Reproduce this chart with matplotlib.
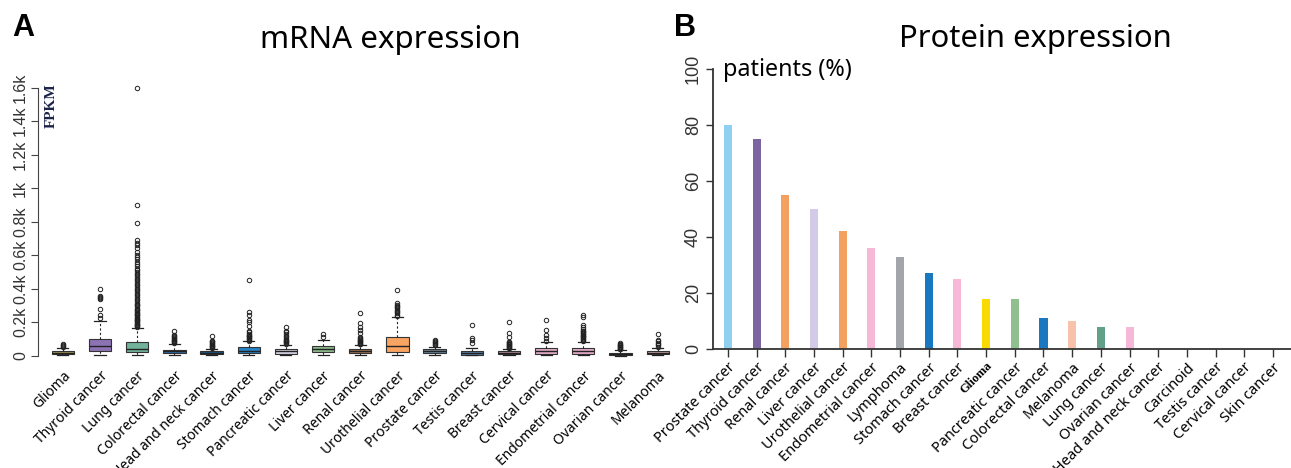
import numpy as np
import matplotlib
matplotlib.use("Agg")
import matplotlib.pyplot as plt

plt.rcParams['font.family'] = ['Noto Sans', 'DejaVu Sans']

# ---- panel A: mRNA expression (FPKM) ----
cats_a = ['Glioma', 'Thyroid cancer', 'Lung cancer', 'Colorectal cancer',
          'Head and neck cancer', 'Stomach cancer', 'Pancreatic cancer',
          'Liver cancer', 'Renal cancer', 'Urothelial cancer', 'Prostate cancer',
          'Testis cancer', 'Breast cancer', 'Cervical cancer',
          'Endometrial cancer', 'Ovarian cancer', 'Melanoma']
q1_a = [10, 25, 22, 15, 8, 15, 12, 24, 14, 24, 14, 6, 8, 10, 10, 4, 8]
med_a = [18, 60, 40, 25, 15, 30, 25, 40, 25, 58, 26, 16, 18, 25, 25, 10, 16]
q3_a = [28, 100, 80, 35, 25, 50, 40, 58, 40, 113, 38, 28, 30, 44, 44, 18, 28]
wlo_a = [1, 2, 1, 1, 1, 1, 1, 2, 1, 2, 1, 1, 1, 1, 1, 0, 1]
whi_a = [45, 205, 165, 70, 40, 85, 65, 93, 64, 233, 54, 44, 40, 84, 84, 34, 48]
fliers_a = [
    [52, 58, 65, 72],
    [225, 245, 280, 340, 345, 350, 355, 400],
    [170, 175, 180, 185, 190, 195, 200, 205, 210, 215, 220, 225, 230, 240, 245,
     250, 255, 260, 270, 275, 280, 290, 300, 305, 310, 320, 330, 340, 350, 360,
     370, 380, 390, 400, 410, 420, 430, 440, 450, 460, 470, 480, 490, 500, 510,
     520, 535, 550, 560, 575, 590, 600, 620, 640, 660, 675, 690, 790, 900, 1600],
    [75, 80, 85, 90, 95, 100, 105, 110, 115, 125, 150],
    [45, 50, 55, 60, 65, 70, 75, 80, 85, 90, 120],
    [90, 95, 100, 105, 110, 115, 120, 125, 130, 140, 150, 175, 200, 215, 240, 260, 450],
    [70, 75, 80, 85, 90, 95, 100, 110, 120, 130, 140, 150, 170],
    [113, 129],
    [68, 72, 76, 80, 85, 90, 95, 100, 105, 113, 133, 153, 173, 193, 253],
    [238, 245, 252, 260, 268, 275, 282, 290, 298, 305, 312, 392],
    [64, 70, 76, 82, 88, 94],
    [74, 94, 103, 183],
    [44, 48, 52, 56, 60, 64, 68, 72, 76, 80, 84, 113, 133, 203],
    [90, 103, 123, 153, 213],
    [90, 95, 100, 105, 110, 115, 120, 125, 130, 135, 140, 145, 150, 160, 170, 183, 233, 243],
    [38, 42, 46, 50, 54, 58, 62, 66, 70, 74],
    [54, 62, 70, 78, 86, 94, 130],
]
box_colors = ['#a8985a', '#8c74b4', '#72b29a', '#2c72b0', '#1e5a8c', '#2482c8',
              '#d4d4e4', '#8cbc8c', '#a47454', '#f8a462', '#6c8ca4', '#5c84a8',
              '#b48c9c', '#e4acc8', '#e8accc', '#3c4858', '#c8a4a4']
yticks_a = [0, 200, 400, 600, 800, 1000, 1200, 1400, 1600]
ylabels_a = ['0', '0.2k', '0.4k', '0.6k', '0.8k', '1k', '1.2k', '1.4k', '1.6k']

# ---- panel B: protein expression ----
cats_b = ['Prostate cancer', 'Thyroid cancer', 'Renal cancer', 'Liver cancer',
          'Urothelial cancer', 'Endometrial cancer', 'Lymphoma', 'Stomach cancer',
          'Breast cancer', 'Glioma', 'Pancreatic cancer', 'Colorectal cancer',
          'Melanoma', 'Lung cancer', 'Ovarian cancer', 'Head and neck cancer',
          'Carcinoid', 'Testis cancer', 'Cervical cancer', 'Skin cancer']
vals_b = [80, 75, 55, 50, 42, 36, 33, 27, 25, 18, 18, 11, 10, 8, 8, 0, 0, 0, 0, 0]
bar_colors = ['#8fd0f0', '#7b64a0', '#f4a060', '#d2cae6', '#f4a060', '#f6b8d6',
              '#a2a6aa', '#1a78c0', '#f6b8d6', '#f8da00', '#90c090', '#1a78c0',
              '#f8c2aa', '#62a08a', '#f6b8d6', '#f6b8d6', '#f6b8d6', '#f6b8d6',
              '#f6b8d6', '#f6b8d6']
yticks_b = [0, 20, 40, 60, 80, 100]

fig = plt.figure(figsize=(12.91, 4.68), dpi=100)

# A
ax1 = fig.add_axes([0.0294, 0.2186, 0.4973, 0.612])
stats = []
for i in range(len(cats_a)):
    stats.append(dict(med=med_a[i], q1=q1_a[i], q3=q3_a[i], whislo=wlo_a[i],
                      whishi=whi_a[i], fliers=fliers_a[i]))
pos = np.arange(1, len(cats_a) + 1)
bp = ax1.bxp(stats, positions=pos, widths=0.6, patch_artist=True,
             boxprops=dict(edgecolor='#333333', linewidth=0.8),
             medianprops=dict(color='#222222', linewidth=1.0),
             whiskerprops=dict(color='#222222', linewidth=0.8, linestyle=(0, (2, 2))),
             capprops=dict(color='#222222', linewidth=0.9),
             flierprops=dict(marker='o', markersize=3.2, markerfacecolor='none',
                             markeredgecolor='#222222', markeredgewidth=0.7))
for patch, c in zip(bp['boxes'], box_colors):
    patch.set_facecolor(c)
for cap in bp['caps']:
    x = cap.get_xdata()
    m = (x[0] + x[1]) / 2
    cap.set_xdata([m - 0.15, m + 0.15])
ax1.set_xlim(0.33, 17.6)
ax1.set_ylim(-60, 1650)
ax1.set_yticks(yticks_a)
ax1.set_yticklabels(ylabels_a, rotation=90, va='center', fontsize=11.5,
                    family='Liberation Sans', color='#333333')
ax1.spines['left'].set_bounds(0, 1600)
ax1.spines['left'].set_color('#444444')
for s in ['top', 'right', 'bottom']:
    ax1.spines[s].set_visible(False)
ax1.tick_params(axis='y', length=5, width=0.8, color='#444444', pad=2)
ax1.tick_params(axis='x', length=0, pad=2)
ax1.set_xticks(pos)
ax1.set_xticklabels(cats_a, rotation=45, ha='right', rotation_mode='anchor',
                    fontsize=10)
ax1.text(0.70, 1490, 'FPKM', rotation=90, va='center', ha='center',
         fontsize=11, fontweight='bold', family='Liberation Serif', color='#1c2448')

# B
ax2 = fig.add_axes([0.5523, 0.2543, 0.4477, 0.6103])
xb = np.arange(len(cats_b))
ax2.bar(xb, vals_b, width=0.28, color=bar_colors)
ax2.set_xlim(-0.523, 19.63)
ax2.set_ylim(0, 102)
ax2.set_yticks(yticks_b)
ax2.set_yticklabels([str(v) for v in yticks_b], rotation=90, va='center',
                    fontsize=13, family='Liberation Sans', color='#333333')
ax2.spines['left'].set_bounds(0, 100)
for s in ['top', 'right']:
    ax2.spines[s].set_visible(False)
for s in ['left', 'bottom']:
    ax2.spines[s].set_color('#333333')
    ax2.spines[s].set_linewidth(1.3)
ax2.tick_params(axis='y', length=5, width=1.0, color='#333333', pad=3)
ax2.tick_params(axis='x', length=6, width=1.0, color='#333333', pad=2)
ax2.set_xticks(xb)
ax2.set_xticklabels(cats_b, rotation=45, ha='right', rotation_mode='anchor',
                    fontsize=10.5)
glioma_lbl = ax2.get_xticklabels()[cats_b.index('Glioma')]
glioma_lbl.set_family('Liberation Serif')
glioma_lbl.set_fontweight('bold')
glioma_lbl.set_fontsize(9)
ax2.text(-0.17, 99.5, 'patients (%)', fontsize=16.8, va='center', ha='left')

# titles and panel letters
fig.text(390 / 1291, 1 - 40 / 468, 'mRNA expression', fontsize=22.5,
         ha='center', va='center')
fig.text(1035 / 1291, 1 - 39 / 468, 'Protein expression', fontsize=22.3,
         ha='center', va='center')
fig.text(12 / 1291, 1 - 28 / 468, 'A', fontsize=22, fontweight='bold',
         family='Liberation Sans', va='center')
fig.text(674 / 1291, 1 - 28 / 468, 'B', fontsize=22, fontweight='bold',
         family='Liberation Sans', va='center')

fig.savefig('out.png', dpi=100)
